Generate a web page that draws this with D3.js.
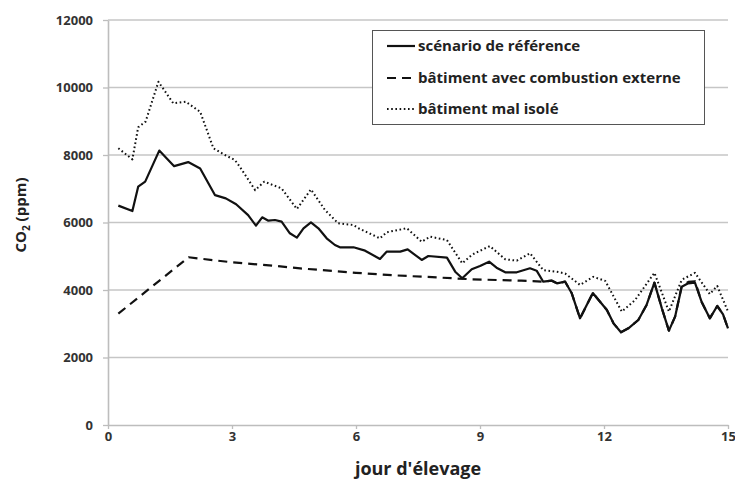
<!DOCTYPE html>
<html><head><meta charset="utf-8">
<script src="https://cdn.jsdelivr.net/npm/d3@7"></script>
<style>body{margin:0;background:#fff}svg{display:block}</style>
</head><body>
<svg id="chart" width="735" height="481"></svg>
<script>
// ---- data ----
const seriesNames = ["scénario de référence", "bâtiment avec combustion externe", "bâtiment mal isolé"];
const xTicks = [0, 3, 6, 9, 12, 15];
const yTicks = [0, 2000, 4000, 6000, 8000, 10000, 12000];

const refDays = [0.25,0.59,0.73,0.9,1.24,1.6,1.94,2.23,2.59,2.85,3.1,3.39,3.58,3.73,3.88,4.04,4.2,4.4,4.57,4.73,4.91,5.09,5.29,5.49,5.61,5.94,6.22,6.58,6.74,7.07,7.25,7.59,7.75,8.2,8.4,8.57,8.8,9.0,9.22,9.4,9.61,9.89,10.21,10.37,10.53,10.74,10.86,11.06,11.22,11.42,11.73,12.07,12.23,12.41,12.59,12.83,13.03,13.22,13.4,13.57,13.72,13.88,14.04,14.2,14.36,14.56,14.74,14.88,15.0];
const refValues = [6500,6340,7060,7210,8130,7670,7790,7600,6810,6716,6540,6220,5905,6154,6053,6074,6024,5680,5550,5828,6006,5828,5532,5333,5265,5265,5165,4919,5136,5136,5205,4889,5007,4958,4543,4346,4613,4711,4839,4661,4524,4524,4643,4573,4246,4276,4198,4246,3902,3161,3910,3407,3012,2746,2864,3111,3556,4217,3457,2795,3210,4099,4198,4217,3654,3161,3526,3279,2860];

const extDays = [0.25,1.95,3.0,4.0,4.65,6.0,7.0,8.0,8.8,10.0,10.5,10.74,10.86,11.06,11.22,11.42,11.73,12.07,12.23,12.41,12.59,12.83,13.03,13.22,13.4,13.57,13.72,13.88,14.04,14.2,14.36,14.56,14.74,14.88,15.0];
const extValues = [3300,4970,4820,4720,4640,4510,4430,4370,4317,4276,4250,4276,4198,4246,3902,3161,3910,3407,3012,2746,2864,3111,3556,4217,3457,2795,3210,4120,4240,4260,3654,3161,3526,3279,2860];

const isoDays = [0.25,0.59,0.73,0.91,1.22,1.58,1.88,2.23,2.55,2.83,3.07,3.19,3.56,3.78,4.2,4.57,4.91,5.25,5.57,5.94,6.06,6.58,6.74,7.23,7.59,7.79,8.2,8.57,8.8,8.96,9.24,9.61,9.89,10.21,10.53,10.86,11.06,11.42,11.74,12.03,12.43,12.75,13.22,13.57,13.88,14.2,14.56,14.74,15.0];
const isoValues = [8200,7870,8820,8990,10170,9530,9580,9280,8200,8000,7850,7650,6960,7210,7010,6400,6980,6370,5975,5926,5830,5530,5710,5830,5430,5580,5480,4790,5040,5140,5300,4910,4870,5090,4590,4540,4490,4150,4390,4270,3360,3700,4510,3360,4300,4510,3880,4120,3360];

// ---- layout ----
const svg = d3.select("#chart");
const x = d3.scaleLinear().domain([0, 15]).range([108, 728]);
const y = d3.scaleLinear().domain([0, 12000]).range([425, 20]);
const font = "'Open Sans', 'Liberation Sans', sans-serif";

// gridlines
svg.append("g").selectAll("line").data(yTicks.filter(d => d > 0)).join("line")
  .attr("x1", x(0)).attr("x2", x(15))
  .attr("y1", d => y(d)).attr("y2", d => y(d))
  .attr("stroke", "#c6c6c6").attr("stroke-width", 1.3);

// axes
const yAxis = svg.append("g").attr("transform", `translate(${x(0)},0)`)
  .call(d3.axisLeft(y).tickValues(yTicks).tickFormat(d3.format("d")).tickSize(5).tickSizeOuter(0).tickPadding(10));
const xAxis = svg.append("g").attr("transform", `translate(0,${y(0)})`)
  .call(d3.axisBottom(x).tickValues(xTicks).tickFormat(d3.format("d")).tickSize(4).tickSizeOuter(0).tickPadding(3));
[yAxis, xAxis].forEach(a => {
  a.select(".domain").attr("stroke", "#bdbdbd").attr("stroke-width", 1.6);
  a.selectAll(".tick line").attr("stroke", "#bdbdbd").attr("stroke-width", 1.3);
  a.selectAll(".tick text").attr("fill", "#333").attr("font-family", font)
    .attr("font-weight", "bold").attr("font-size", 13);
});

// lines
const series = [
  {days: refDays, values: refValues, dash: null, width: 2.2},
  {days: extDays, values: extValues, dash: "9,6", width: 2.2},
  {days: isoDays, values: isoValues, dash: "1.6,2.6", width: 2}
];
const line = d3.line().x(d => x(d[0])).y(d => y(d[1]));
[series[1], series[0], series[2]].forEach(s => {
  svg.append("path")
    .datum(s.days.map((d, i) => [d, s.values[i]]))
    .attr("d", line).attr("fill", "none").attr("stroke", "#111")
    .attr("stroke-width", s.width).attr("stroke-dasharray", s.dash)
    .attr("stroke-linejoin", "round");
});

// legend
const lg = svg.append("g");
lg.append("rect").attr("x", 372.5).attr("y", 30.5).attr("width", 332).attr("height", 94)
  .attr("fill", "#fff").attr("stroke", "#555").attr("stroke-width", 1);
const rowY = [46, 78, 109];
series.forEach((s, i) => {
  lg.append("line").attr("x1", 387).attr("x2", 415).attr("y1", rowY[i]).attr("y2", rowY[i])
    .attr("stroke", "#111").attr("stroke-width", s.width).attr("stroke-dasharray", s.dash);
  lg.append("text").attr("x", 418).attr("y", rowY[i]).attr("dy", "0.35em")
    .attr("font-family", font).attr("font-weight", "bold").attr("font-size", 15)
    .attr("fill", "#222").text(seriesNames[i]);
});

// axis titles
svg.append("text").attr("x", x(7.5)).attr("y", 475).attr("text-anchor", "middle")
  .attr("font-family", font).attr("font-weight", "bold").attr("font-size", 18)
  .attr("fill", "#222").text("jour d'élevage");
const yt = svg.append("text").attr("transform", "translate(26,215) rotate(-90)")
  .attr("text-anchor", "middle").attr("font-family", font).attr("font-weight", "bold")
  .attr("font-size", 15).attr("fill", "#222");
yt.append("tspan").text("CO");
yt.append("tspan").attr("font-size", 10).attr("dy", 4).text("2");
yt.append("tspan").attr("dy", -4).text(" (ppm)");
</script>
</body></html>
